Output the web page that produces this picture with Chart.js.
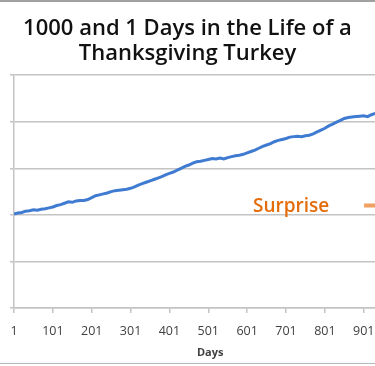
<!DOCTYPE html>
<html>
<head>
<meta charset="utf-8">
<script src="https://cdn.jsdelivr.net/npm/chart.js@4.4.1/dist/chart.umd.min.js"></script>
<style>
  html, body { margin: 0; padding: 0; background: #fff; overflow: hidden; }
  #wrap { position: relative; width: 375px; height: 366px; }
  #wrap:before { content: ""; position: absolute; left: 0; right: 0; top: 0; border-top: 2px solid #a0a0a0; }
  #wrap:after { content: ""; position: absolute; left: 0; right: 0; top: 363px; border-top: 1px solid #b8b8b8; }
</style>
</head>
<body>
<div id="wrap"><canvas id="turkey" width="375" height="366"></canvas></div>
<script>
// days and weight (every 10 days)
const days = [1, 11, 21, 31, 41, 51, 61, 71, 81, 91,
  101, 111, 121, 131, 141, 151, 161, 171, 181, 191,
  201, 211, 221, 231, 241, 251, 261, 271, 281, 291,
  301, 311, 321, 331, 341, 351, 361, 371, 381, 391,
  401, 411, 421, 431, 441, 451, 461, 471, 481, 491,
  501, 511, 521, 531, 541, 551, 561, 571, 581, 591,
  601, 611, 621, 631, 641, 651, 661, 671, 681, 691,
  701, 711, 721, 731, 741, 751, 761, 771, 781, 791,
  801, 811, 821, 831, 841, 851, 861, 871, 881, 891,
  901, 911, 921, 931];
const weight = [2.02, 2.04, 2.05, 2.08, 2.09, 2.11, 2.10, 2.12, 2.13, 2.15,
  2.17, 2.20, 2.22, 2.25, 2.28, 2.27, 2.30, 2.31, 2.31, 2.33,
  2.37, 2.41, 2.43, 2.45, 2.47, 2.50, 2.52, 2.53, 2.54, 2.55,
  2.57, 2.60, 2.64, 2.67, 2.70, 2.73, 2.76, 2.79, 2.82, 2.86,
  2.89, 2.92, 2.96, 3.00, 3.04, 3.07, 3.11, 3.14, 3.15, 3.17,
  3.19, 3.21, 3.20, 3.22, 3.20, 3.23, 3.25, 3.27, 3.28, 3.30,
  3.33, 3.36, 3.39, 3.43, 3.47, 3.50, 3.53, 3.57, 3.60, 3.62,
  3.64, 3.67, 3.68, 3.69, 3.68, 3.70, 3.71, 3.74, 3.78, 3.82,
  3.86, 3.91, 3.95, 3.99, 4.03, 4.07, 4.09, 4.10, 4.11, 4.12,
  4.13, 4.11, 4.15, 4.18];

// the orange "surprise" marker
const surpriseDays = [902, 935];
const surpriseValues = [2.2, 2.2];

const xTicks = [1, 101, 201, 301, 401, 501, 601, 701, 801, 901];
const xMin = 1;
const xMax = 930;
const yMin = 0;
const yMax = 5;

const titleLines = ["1000 and 1 Days in the Life of a", "Thanksgiving Turkey"];
const xTitle = "Days";
const noteText = "Surprise";

const gridGray = "#c4c4c4";
const lineBlue = "#3f7bd0";
const orange = "#e46c0a";

// text that sits at data positions
const extraText = {
  id: "extraText",
  afterDraw(chart) {
    const ctx = chart.ctx;
    const xs = chart.scales.x, ys = chart.scales.y;
    ctx.save();
    ctx.fillStyle = orange;
    ctx.font = "600 19px 'Open Sans'";
    ctx.textAlign = "left";
    ctx.textBaseline = "middle";
    ctx.fillText(noteText, xs.getPixelForValue(616), ys.getPixelForValue(2.17));
    ctx.fillStyle = "#404040";
    ctx.font = "bold 11px 'Open Sans'";
    ctx.textAlign = "center";
    ctx.fillText(xTitle, xs.getPixelForValue(506), 353);
    ctx.restore();
  }
};

const chart = new Chart(document.getElementById("turkey"), {
  type: "line",
  data: {
    datasets: [
      {
        label: "Weight",
        data: days.map((d, i) => ({ x: d, y: weight[i] })),
        borderColor: lineBlue,
        borderWidth: 3,
        pointRadius: 0,
        tension: 0
      },
      {
        label: "Surprise",
        data: surpriseDays.map((d, i) => ({ x: d, y: surpriseValues[i] })),
        borderColor: "#f0a060",
        borderWidth: 4,
        pointRadius: 0
      }
    ]
  },
  options: {
    responsive: false,
    animation: false,
    layout: { padding: { left: 0, right: 0, top: 0, bottom: 0 } },
    plugins: {
      legend: { display: false },
      tooltip: { enabled: false },
      title: {
        display: true,
        text: titleLines,
        color: "#111",
        font: { family: "'Open Sans'", size: 22, weight: "600", lineHeight: 1.14 },
        padding: { top: 16, bottom: 9 }
      }
    },
    scales: {
      x: {
        type: "linear",
        min: xMin,
        max: xMax,
        afterBuildTicks: (s) => { s.ticks = xTicks.map(v => ({ value: v })); },
        afterFit: (s) => { s.height = 58; s.paddingLeft = 0; s.paddingRight = 0; },
        ticks: {
          color: "#404040",
          font: { family: "'Open Sans'", size: 12.5 },
          padding: 11,
          maxRotation: 0,
          autoSkip: false
        },
        grid: { drawOnChartArea: false, drawTicks: true, tickLength: 5, color: gridGray, lineWidth: 1.5 },
        border: { color: gridGray, width: 1.5 }
      },
      y: {
        min: yMin,
        max: yMax,
        afterFit: (s) => { s.width = 14; },
        ticks: { display: false, stepSize: 1 },
        grid: { color: gridGray, lineWidth: 1.5, drawTicks: true, tickLength: 4 },
        border: { color: gridGray, width: 1.5 }
      }
    }
  },
  plugins: [extraText]
});
</script>
</body>
</html>
